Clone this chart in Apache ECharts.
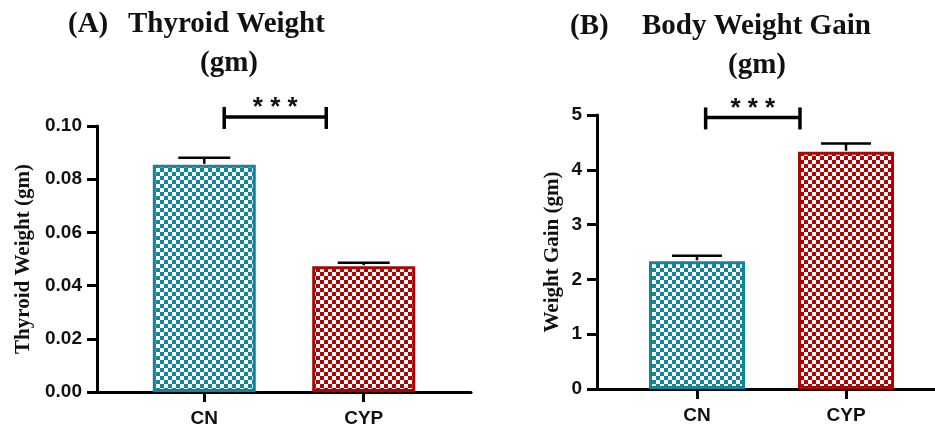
<!DOCTYPE html>
<html>
<head>
<meta charset="utf-8">
<script src="https://cdn.jsdelivr.net/npm/echarts@6/dist/echarts.min.js"></script>
<style>
html,body{margin:0;padding:0;background:#fff;}
#chart{width:935px;height:428px;}
</style>
</head>
<body>
<div id="chart"></div>
<script>
// ---- data ----
const categories = ['CN', 'CYP'];
const thyroidMean = [0.0854, 0.0473];
const thyroidSem = [0.0027, 0.0013];
const gainMean = [2.33, 4.33];
const gainSem = [0.10, 0.15];
const thyroidTicks = [0, 0.1, 0.02];   // min, max, interval
const gainTicks = [0, 5, 1];
// significance brackets: [fromX, toX, y] in data units
const bracketA = [0.125, 0.765, 0.1034];
const bracketB = [0.058, 0.691, 4.955];
const sigLabel = '***';

// ---- styles ----
const teal = '#14849d';
const red = '#aa0404';
const serif = '"Liberation Serif", "Times New Roman", serif';
const sans = '"Liberation Sans", Arial, sans-serif';

function makePattern(color) {
  const c = document.createElement('canvas');
  c.width = 8; c.height = 8;
  const ctx = c.getContext('2d');
  ctx.fillStyle = '#ffffff';
  ctx.fillRect(0, 0, 8, 8);
  ctx.fillStyle = color;
  ctx.fillRect(0, 0, 4, 4);
  ctx.fillRect(4, 4, 4, 4);
  return { image: c, repeat: 'repeat' };
}
const colors = [teal, red];

const chart = echarts.init(document.getElementById('chart'), null, { renderer: 'canvas' });

function xAxisCfg(gridIndex, min, max) {
  return {
    gridIndex: gridIndex, type: 'value', min: min, max: max,
    splitLine: { show: false },
    axisLine: { show: true, onZero: false, lineStyle: { color: '#000', width: 3 } },
    axisTick: { show: true, customValues: [0, 1], length: 10, lineStyle: { color: '#000', width: 3 } },
    axisLabel: {
      customValues: [0, 1], margin: 17,
      formatter: v => categories[Math.round(v)],
      fontFamily: sans, fontWeight: 'bold', fontSize: 19, color: '#111'
    }
  };
}
function yAxisCfg(gridIndex, ticks, name, gap, fmt) {
  return {
    gridIndex: gridIndex, type: 'value', min: ticks[0], max: ticks[1], interval: ticks[2],
    name: name, nameLocation: 'middle', nameGap: gap,
    nameTextStyle: { fontFamily: serif, fontWeight: 'bold', fontSize: 21, color: '#111' },
    splitLine: { show: false },
    axisLine: { show: true, onZero: false, lineStyle: { color: '#000', width: 3 } },
    axisTick: { show: true, length: 10, lineStyle: { color: '#000', width: 3 } },
    axisLabel: { margin: 15, formatter: fmt, fontFamily: sans, fontWeight: 'bold', fontSize: 19, color: '#111' }
  };
}

function barSeries(idx, means) {
  return {
    type: 'bar', xAxisIndex: idx, yAxisIndex: idx,
    barWidth: idx === 0 ? 103 : 96,
    data: means.map((v, i) => ({
      value: [i, v],
      itemStyle: { color: makePattern(colors[i]), borderColor: colors[i], borderWidth: 3 }
    })),
    silent: true, z: 2
  };
}
function errSeries(idx, means, sems, hw) {
  return {
    type: 'custom', xAxisIndex: idx, yAxisIndex: idx, clip: false, z: 3,
    data: means.map((v, i) => [i, v, sems[i]]),
    renderItem: function (params, api) {
      const x = api.value(0), m = api.value(1), s = api.value(2);
      const p0 = api.coord([x, m]);
      const p1 = api.coord([x, m + s]);
      const st = { stroke: '#000', lineWidth: 2.5 };
      return {
        type: 'group', children: [
          { type: 'line', shape: { x1: p0[0], y1: p0[1] - 1, x2: p1[0], y2: p1[1] }, style: st },
          { type: 'line', shape: { x1: p1[0] - hw, y1: p1[1], x2: p1[0] + hw, y2: p1[1] }, style: st }
        ]
      };
    }
  };
}
function bracketSeries(idx, br) {
  return {
    type: 'custom', xAxisIndex: idx, yAxisIndex: idx, clip: false, z: 4,
    data: [br],
    renderItem: function (params, api) {
      const a = api.coord([api.value(0), api.value(2)]);
      const b = api.coord([api.value(1), api.value(2)]);
      const st = { stroke: '#000', lineWidth: 3.5 };
      return {
        type: 'group', children: [
          { type: 'line', shape: { x1: a[0], y1: a[1], x2: b[0], y2: b[1] }, style: st },
          { type: 'line', shape: { x1: a[0], y1: a[1] - 10, x2: a[0], y2: a[1] + 12 }, style: st },
          { type: 'line', shape: { x1: b[0], y1: b[1] - 10, x2: b[0], y2: b[1] + 12 }, style: st },
          { type: 'text', style: { x: (a[0] + b[0]) / 2, y: a[1] - 9, text: sigLabel.split('').join(' '),
            font: 'bold 26px ' + sans, fill: '#111', align: 'center', verticalAlign: 'middle' } }
        ]
      };
    }
  };
}

const titleStyle = { fontFamily: serif, fontWeight: 'bold', fontSize: 29, color: '#111' };
function t(text, left, top) { return { text: text, left: left, top: top, padding: 0, textStyle: titleStyle }; }

const option = {
  animation: false,
  backgroundColor: '#fff',
  title: [
    t('(A)', 68, 10), t('Thyroid Weight', 128, 10), t('(gm)', 200, 49),
    t('(B)', 570, 12), t('Body Weight Gain', 642, 12), t('(gm)', 728, 51)
  ],
  grid: [
    { left: 97, right: 935 - 471, top: 126, bottom: 428 - 393 },
    { left: 597, right: 0, top: 115, bottom: 428 - 389 }
  ],
  xAxis: [xAxisCfg(0, -0.673, 1.673), xAxisCfg(1, -0.671, 1.597)],
  yAxis: [
    yAxisCfg(0, thyroidTicks, 'Thyroid Weight (gm)', 63, v => v.toFixed(2)),
    yAxisCfg(1, gainTicks, 'Weight Gain (gm)', 34, v => String(v))
  ],
  series: [
    barSeries(0, thyroidMean), errSeries(0, thyroidMean, thyroidSem, 26), bracketSeries(0, bracketA),
    barSeries(1, gainMean), errSeries(1, gainMean, gainSem, 25), bracketSeries(1, bracketB)
  ]
};
chart.setOption(option);
</script>
</body>
</html>
